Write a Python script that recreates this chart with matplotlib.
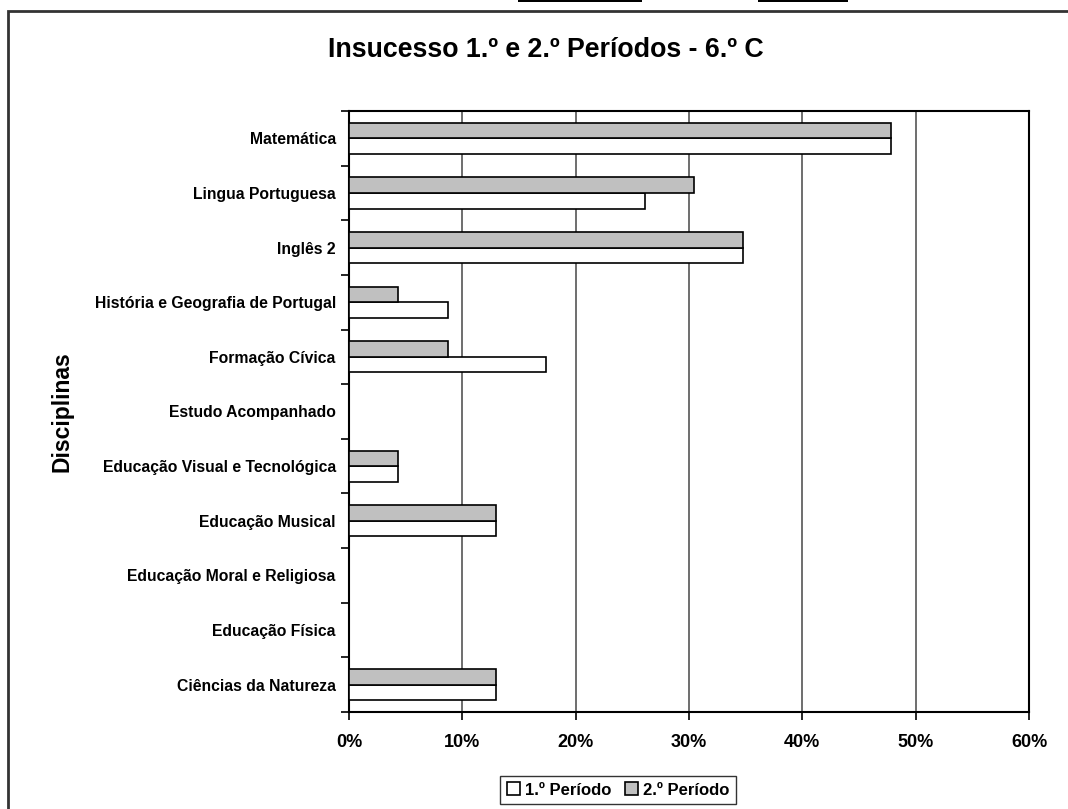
import matplotlib
matplotlib.use("Agg")
import matplotlib.pyplot as plt
from matplotlib.patches import Rectangle
from matplotlib.ticker import MultipleLocator, PercentFormatter, FixedLocator

plt.rcParams['font.family'] = ['Liberation Sans', 'DejaVu Sans']
plt.rcParams['font.weight'] = 'bold'

# categories listed bottom -> top (as drawn)
disciplinas = [
    "Ciências da Natureza",
    "Educação Física",
    "Educação Moral e Religiosa",
    "Educação Musical",
    "Educação Visual e Tecnológica",
    "Estudo Acompanhado",
    "Formação Cívica",
    "História e Geografia de Portugal",
    "Inglês 2",
    "Lingua Portuguesa",
    "Matemática",
]
periodo1 = [13.0, 0.0, 0.0, 13.0, 4.3, 0.0, 17.4, 8.7, 34.8, 26.1, 47.8]
periodo2 = [13.0, 0.0, 0.0, 13.0, 4.3, 0.0, 8.7, 4.3, 34.8, 30.4, 47.8]

fig = plt.figure(figsize=(10.68, 8.09), dpi=100)
ax = fig.add_axes([0.3268, 0.1199, 0.6367, 0.7429])

pos = list(range(len(disciplinas)))
h = 0.285
b1 = ax.barh([p - h / 2 for p in pos], periodo1, height=h, color="white",
             edgecolor="black", linewidth=1.2, label="1.º Período", zorder=3)
b2 = ax.barh([p + h / 2 for p in pos], periodo2, height=h, color="#c0c0c0",
             edgecolor="black", linewidth=1.2, label="2.º Período", zorder=3)

ax.set_xlim(0, 60)
ax.set_ylim(-0.5, len(disciplinas) - 0.5)
ax.xaxis.set_major_locator(MultipleLocator(10))
ax.xaxis.set_major_formatter(PercentFormatter(decimals=0))
ax.grid(axis="x", color="#555555", linewidth=1.2, zorder=0)

ax.set_yticks(pos)
ax.set_yticklabels(disciplinas, fontsize=11.3, fontweight="bold")
ax.yaxis.set_minor_locator(FixedLocator([p + 0.5 for p in pos[:-1]] + [-0.5, len(pos) - 0.5]))
ax.tick_params(axis="y", which="major", length=0, pad=9.5)
ax.tick_params(axis="y", which="minor", length=6, width=1.2, direction="out")
ax.tick_params(axis="x", length=6, width=1.2, labelsize=13, pad=10)
for lab in ax.get_xticklabels():
    lab.set_fontweight("bold")

for s in ax.spines.values():
    s.set_linewidth(1.5)
    s.set_color("black")

ax.set_ylabel("Disciplinas", fontsize=16.5, fontweight="bold", labelpad=0)
ax.yaxis.set_label_coords(-0.405, 0.5)

fig.text(0.511, 0.938, "Insucesso 1.º e 2.º Períodos - 6.º C", ha="center",
         va="center", fontsize=19.3, fontweight="bold")

leg = fig.legend(handles=[b1, b2], loc="center", bbox_to_anchor=(0.579, 0.0235),
                 ncol=2, fontsize=12, frameon=True, fancybox=False,
                 handlelength=0.8, handleheight=0.8, handletextpad=0.3,
                 columnspacing=0.8, borderpad=0.4)
leg.get_frame().set_edgecolor("black")
leg.get_frame().set_linewidth(1.0)

# outer chart border and top artifacts
fig.add_artist(Rectangle((8 / 1068, -0.1), 1.2, 1 - 11 / 809 + 0.1,
                         transform=fig.transFigure, fill=False,
                         edgecolor="#333333", linewidth=2))
fig.add_artist(Rectangle((518 / 1068, 1 - 2 / 809), 124 / 1068, 0.01,
                         transform=fig.transFigure, facecolor="black",
                         edgecolor="black", linewidth=0))
fig.add_artist(Rectangle((758 / 1068, 1 - 2 / 809), 90 / 1068, 0.01,
                         transform=fig.transFigure, facecolor="black",
                         edgecolor="black", linewidth=0))

fig.savefig("out.png", dpi=100)
